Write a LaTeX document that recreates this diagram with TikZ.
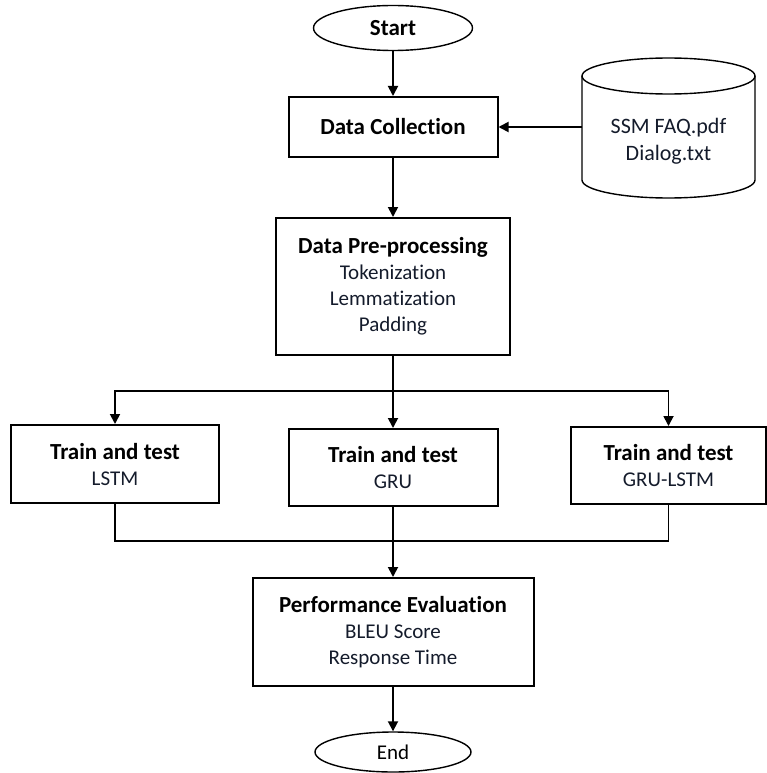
\documentclass[tikz,border=0pt]{standalone}
\usepackage{fontspec}
\setmainfont{Carlito}[Ligatures=NoCommon]
\usetikzlibrary{arrows.meta, positioning, shapes.geometric, calc}
\definecolor{ink}{HTML}{000000}
\definecolor{sec}{HTML}{141B2B}
\tikzset{
  box/.style={draw=ink, line width=2pt, align=center, inner sep=0pt,
              font=\fontsize{21}{26}\selectfont, text=sec},
  term/.style={ellipse, draw=ink, line width=1.4pt, inner sep=0pt,
               font=\fontsize{23}{27}\selectfont, text=ink},
  fl/.style={-{Triangle[length=10pt, width=10pt]}, line width=1.8pt, draw=ink},
  ln/.style={line width=1.2pt, draw=ink},
}
\newcommand{\hd}[1]{{\fontsize{23}{28}\selectfont\bfseries\color{ink}#1}}

\begin{document}
\begin{tikzpicture}[x=1pt, y=-1pt]
    \useasboundingbox (0,0) rectangle (767,773);
    % main column
    \node[term, minimum width=159pt, minimum height=45pt] (start) at (393,28) {\bfseries Start};
    \node[box, minimum width=209pt, minimum height=60pt] (collect) at (393,127) {\hd{Data Collection}};
    \node[box, minimum width=234pt, minimum height=137pt] (prep) at (393,286.5)
        {\hd{Data Pre-processing}\\Tokenization\\Lemmatization\\Padding};
    \node[box, minimum width=208pt, minimum height=78pt] (lstm) at (115,464) {\hd{Train and test}\\LSTM};
    \node[box, minimum width=209pt, minimum height=77pt] (gru) at (393,467.5) {\hd{Train and test}\\GRU};
    \node[box, minimum width=195pt, minimum height=77pt] (grulstm) at (668.5,465.5) {\hd{Train and test}\\GRU-LSTM};
    \node[box, minimum width=281pt, minimum height=108pt] (perf) at (393,632)
        {\hd{Performance Evaluation}\\BLEU Score\\Response Time};
    \node[term, minimum width=156pt, minimum height=40pt, font=\fontsize{21}{26}\selectfont] (end) at (393,752) {End};
    % data source
    \draw[ln, line width=1.4pt] (582,76) -- (582,180)
        arc[start angle=180, end angle=360, x radius=86.5pt, y radius=18pt] -- (755,76);
    \draw[ln, line width=1.4pt] (668.5,76) ellipse [x radius=86.5pt, y radius=18pt];
    \node[font=\fontsize{22}{27}\selectfont, text=sec, align=center] (src) at (668.5,141) {SSM FAQ.pdf\\Dialog.txt};
    \coordinate (srcin) at (582,127);
    \coordinate (split) at (393,391);
    \coordinate (merge) at (393,541);
    % connectors
    \draw[fl] (start) -- (collect);
    \draw[fl] (srcin) -- (collect.east);
    \draw[fl] (collect) -- (prep);
    \draw[fl] (prep.south) -- (split) -| (lstm.north);
    \draw[fl] (split) -| (grulstm.north);
    \draw[fl] (split) -- (gru.north);
    \draw[ln] (lstm.south) |- (merge);
    \draw[ln] (grulstm.south) |- (merge);
    \draw[fl] (gru.south) -- (merge) -- (perf.north);
    \draw[fl] (perf) -- (end);
  \end{tikzpicture}
\end{document}
